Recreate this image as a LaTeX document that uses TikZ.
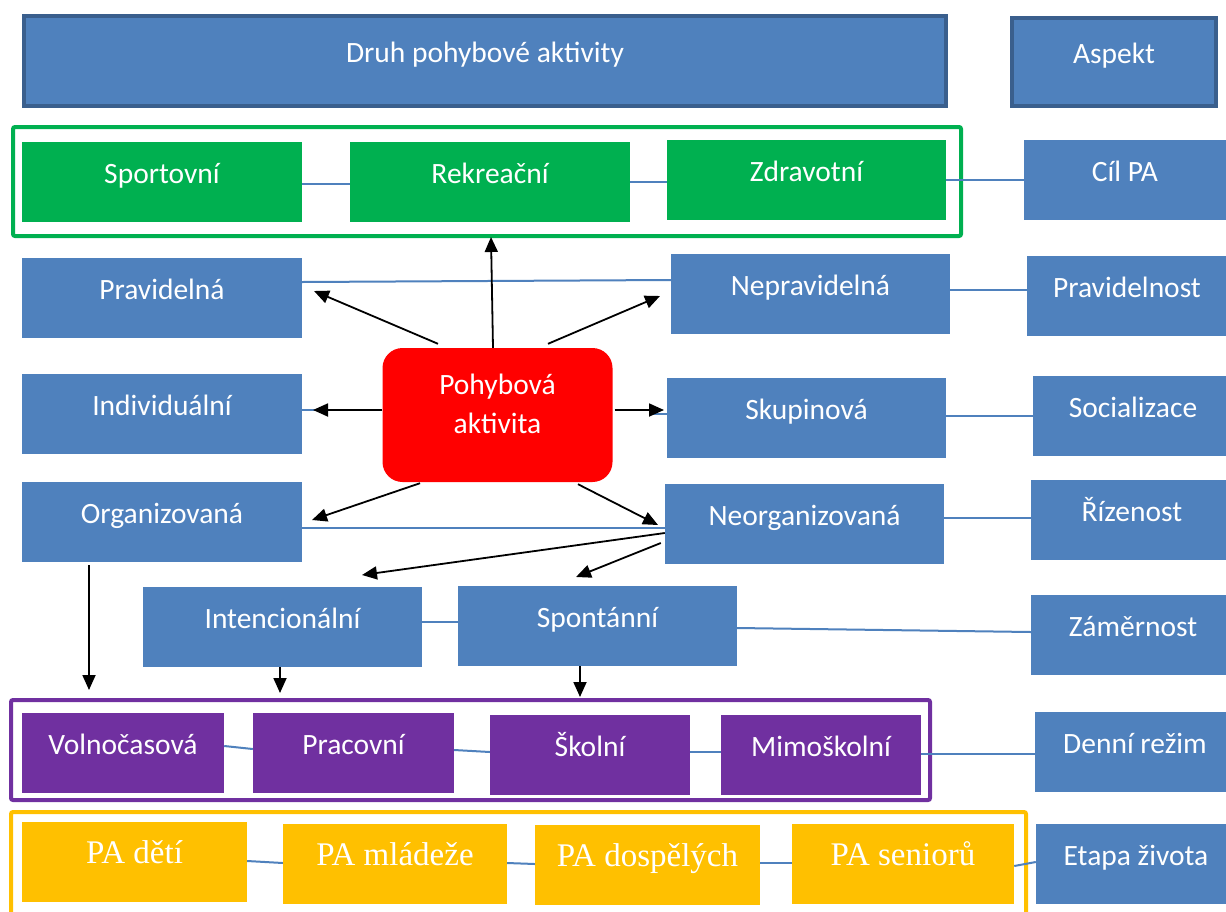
\documentclass[tikz,border=0pt]{standalone}
\usepackage{fontspec}
\setmainfont{Carlito}
\newfontfamily\serifpa{Liberation Serif}
\usetikzlibrary{arrows.meta}
\definecolor{boxblue}{HTML}{4F81BD}
\definecolor{darkblue}{HTML}{3A5F8D}
\definecolor{pagreen}{HTML}{00B050}
\definecolor{papurple}{HTML}{7030A0}
\definecolor{paorange}{HTML}{FFC000}
\definecolor{pared}{HTML}{FF0000}
\begin{document}
\begin{tikzpicture}[x=1pt,y=-1pt,
  base/.style={text=white, inner sep=0pt, anchor=center, font=\fontsize{29.5}{39}\selectfont, text height=20pt, text depth=18pt},
  box/.style={base, fill=boxblue, minimum height=80pt},
  hdr/.style={base, fill=boxblue, draw=darkblue, line width=4pt},
  gbox/.style={base, fill=pagreen, minimum width=280pt, minimum height=80pt},
  pbox/.style={base, fill=papurple, minimum height=80pt},
  obox/.style={base, fill=paorange, minimum height=80pt, font=\serifpa\fontsize{33}{36}\selectfont},
  grp/.style={inner sep=0pt, line width=4pt, rounded corners=2pt},
  con/.style={draw=boxblue, line width=2pt},
  arr/.style={draw=black, line width=1.8pt, -{Triangle[length=15pt,width=13pt]}}
]
\useasboundingbox (0,0) rectangle (1226,911);
\fill[white] (0,0) rectangle (1226,911);

% group frames
\node[grp, draw=pagreen, minimum width=948pt, minimum height=109pt] (ggrp) at (487,181.5) {};
\node[grp, draw=papurple, minimum width=919pt, minimum height=100pt] (pgrp) at (470.5,750) {};
\node[grp, draw=paorange, minimum width=1015pt, minimum height=113pt] (ogrp) at (518.5,868.5) {};

% header
\node[hdr, minimum width=922pt, minimum height=90pt] (druh) at (485,61) {Druh pohybové aktivity};
\node[hdr, minimum width=204pt, minimum height=88pt] (aspekt) at (1114,62) {Aspekt};

% row 1
\node[gbox] (sport) at (162,182) {Sportovní};
\node[gbox] (rekr) at (490,182) {Rekreační};
\node[gbox, minimum width=279pt] (zdrav) at (806.5,180) {Zdravotní};
\node[box, minimum width=202pt] (cil) at (1125,180) {Cíl PA};

% row 2
\node[box, minimum width=280pt] (prav) at (162,298) {Pravidelná};
\node[box, minimum width=279pt] (neprav) at (810.5,294) {Nepravidelná};
\node[box, minimum width=200pt] (pravnost) at (1127,296) {Pravidelnost};

% center
\node[base, fill=pared, rounded corners=20pt, minimum width=230pt, minimum height=134pt, align=center, text height=37pt, text depth=0pt] (pa) at (497.5,415) {Pohybová\\aktivita};

% row 3
\node[box, minimum width=280pt] (indiv) at (162,414) {Individuální};
\node[box, minimum width=279pt] (skup) at (806.5,418) {Skupinová};
\node[box, minimum width=200pt] (social) at (1133,416) {Socializace};

% row 4
\node[box, minimum width=280pt] (org) at (162,522) {Organizovaná};
\node[box, minimum width=279pt] (neorg) at (804.5,524) {Neorganizovaná};
\node[box, minimum width=202pt] (riz) at (1132,520) {Řízenost};

% row 5
\node[box, minimum width=279pt] (int) at (282.5,627) {Intencionální};
\node[box, minimum width=279pt] (spont) at (597.5,626) {Spontánní};
\node[box, minimum width=204pt] (zamer) at (1133,635) {Záměrnost};

% row 6
\node[pbox, minimum width=202pt] (voln) at (123,753) {Volnočasová};
\node[pbox, minimum width=201pt] (prac) at (353.5,753) {Pracovní};
\node[pbox, minimum width=200pt] (skol) at (590,755) {Školní};
\node[pbox, minimum width=200pt] (mimo) at (821,755) {Mimoškolní};
\node[box, minimum width=200pt] (denni) at (1135,752) {Denní režim};

% row 7
\node[obox, minimum width=225pt] (deti) at (134.5,862) {PA dětí};
\node[obox, minimum width=224pt] (mlad) at (395,864) {PA mládeže};
\node[obox, minimum width=225pt] (dosp) at (647.5,865) {PA dospělých};
\node[obox, minimum width=222pt] (sen) at (903,864) {PA seniorů};
\node[box, minimum width=200pt] (etapa) at (1136,864) {Etapa života};

% blue connectors
\draw[con] ([yshift=-2pt]sport.east) -- ([yshift=-2pt]rekr.west);
\draw[con] (rekr.east) -- ([yshift=-2pt]zdrav.west);
\draw[con] (zdrav.east) -- (cil.west);
\draw[con] ([yshift=16pt]prav.east) -- ([yshift=14pt]neprav.west);
\draw[con] ([yshift=4pt]neprav.east) -- ([yshift=6pt]pravnost.west);
\coordinate (istub) at (318,410);
\draw[con] ([yshift=4pt]indiv.east) -- (istub);
\coordinate (sstub) at (650,414);
\draw[con] (sstub) -- ([yshift=4pt]skup.west);
\draw[con] ([yshift=2pt]skup.east) -- (social.west);
\draw[con] ([yshift=-6pt]org.east) -- ([yshift=-4pt]neorg.west);
\draw[con] ([yshift=6pt]neorg.east) -- ([yshift=2pt]riz.west);
\draw[con] ([yshift=5pt]int.east) -- ([yshift=4pt]spont.west);
\draw[con] ([yshift=-2pt]spont.east) -- ([yshift=3pt]zamer.west);
\draw[con] ([yshift=7pt]voln.east) -- ([yshift=4pt]prac.west);
\draw[con] ([yshift=3pt]prac.east) -- ([yshift=3pt]skol.west);
\draw[con] ([yshift=3pt]skol.east) -- ([yshift=3pt]mimo.west);
\draw[con] ([yshift=1pt]mimo.east) -- ([yshift=-2pt]denni.west);
\draw[con] ([yshift=1pt]deti.east) -- ([yshift=1pt]mlad.west);
\draw[con] ([yshift=1pt]mlad.east) -- ([yshift=1pt]dosp.west);
\draw[con] ([yshift=2pt]dosp.east) -- ([yshift=1pt]sen.west);
\draw[con] ([yshift=-2pt]sen.east) -- ([yshift=2pt]etapa.west);

% arrows
\coordinate (tRekr) at (491,237);
\coordinate (tPrav) at (314,291);
\coordinate (tNeprav) at (660,296);
\coordinate (tIndiv) at (313,410);
\coordinate (tSkup) at (664,410);
\coordinate (tOrg) at (312,520);
\coordinate (tNeorg) at (658,525);
\coordinate (tInt) at (362,575);
\coordinate (tSpont) at (576,577);
\coordinate (tVoln) at (89,690);
\coordinate (tPrac) at (280,693);
\coordinate (tSkol) at (580,697);

\draw[arr] ([xshift=-4.5pt]pa.north) -- (tRekr);
\draw[arr] ([xshift=-59.5pt,yshift=4pt]pa.north) -- (tPrav);
\draw[arr] ([xshift=50.5pt,yshift=4pt]pa.north) -- (tNeprav);
\draw[arr] ([yshift=5pt]pa.west) -- (tIndiv);
\draw[arr] ([xshift=2pt,yshift=5pt]pa.east) -- (tSkup);
\draw[arr] ([xshift=-77.5pt,yshift=-1pt]pa.south) -- (tOrg);
\draw[arr] ([xshift=80.5pt,yshift=-2pt]pa.south) -- (tNeorg);
\draw[arr] ([yshift=-9pt]neorg.west) -- (tInt);
\draw[arr] ([xshift=-4pt,yshift=-19pt]neorg.west) -- (tSpont);
\draw[arr] ([xshift=-73pt,yshift=-3pt]org.south) -- (tVoln);
\draw[arr] ([xshift=-2.5pt]int.south) -- (tPrac);
\draw[arr] ([xshift=-17.5pt]spont.south) -- (tSkol);
\end{tikzpicture}
\end{document}
